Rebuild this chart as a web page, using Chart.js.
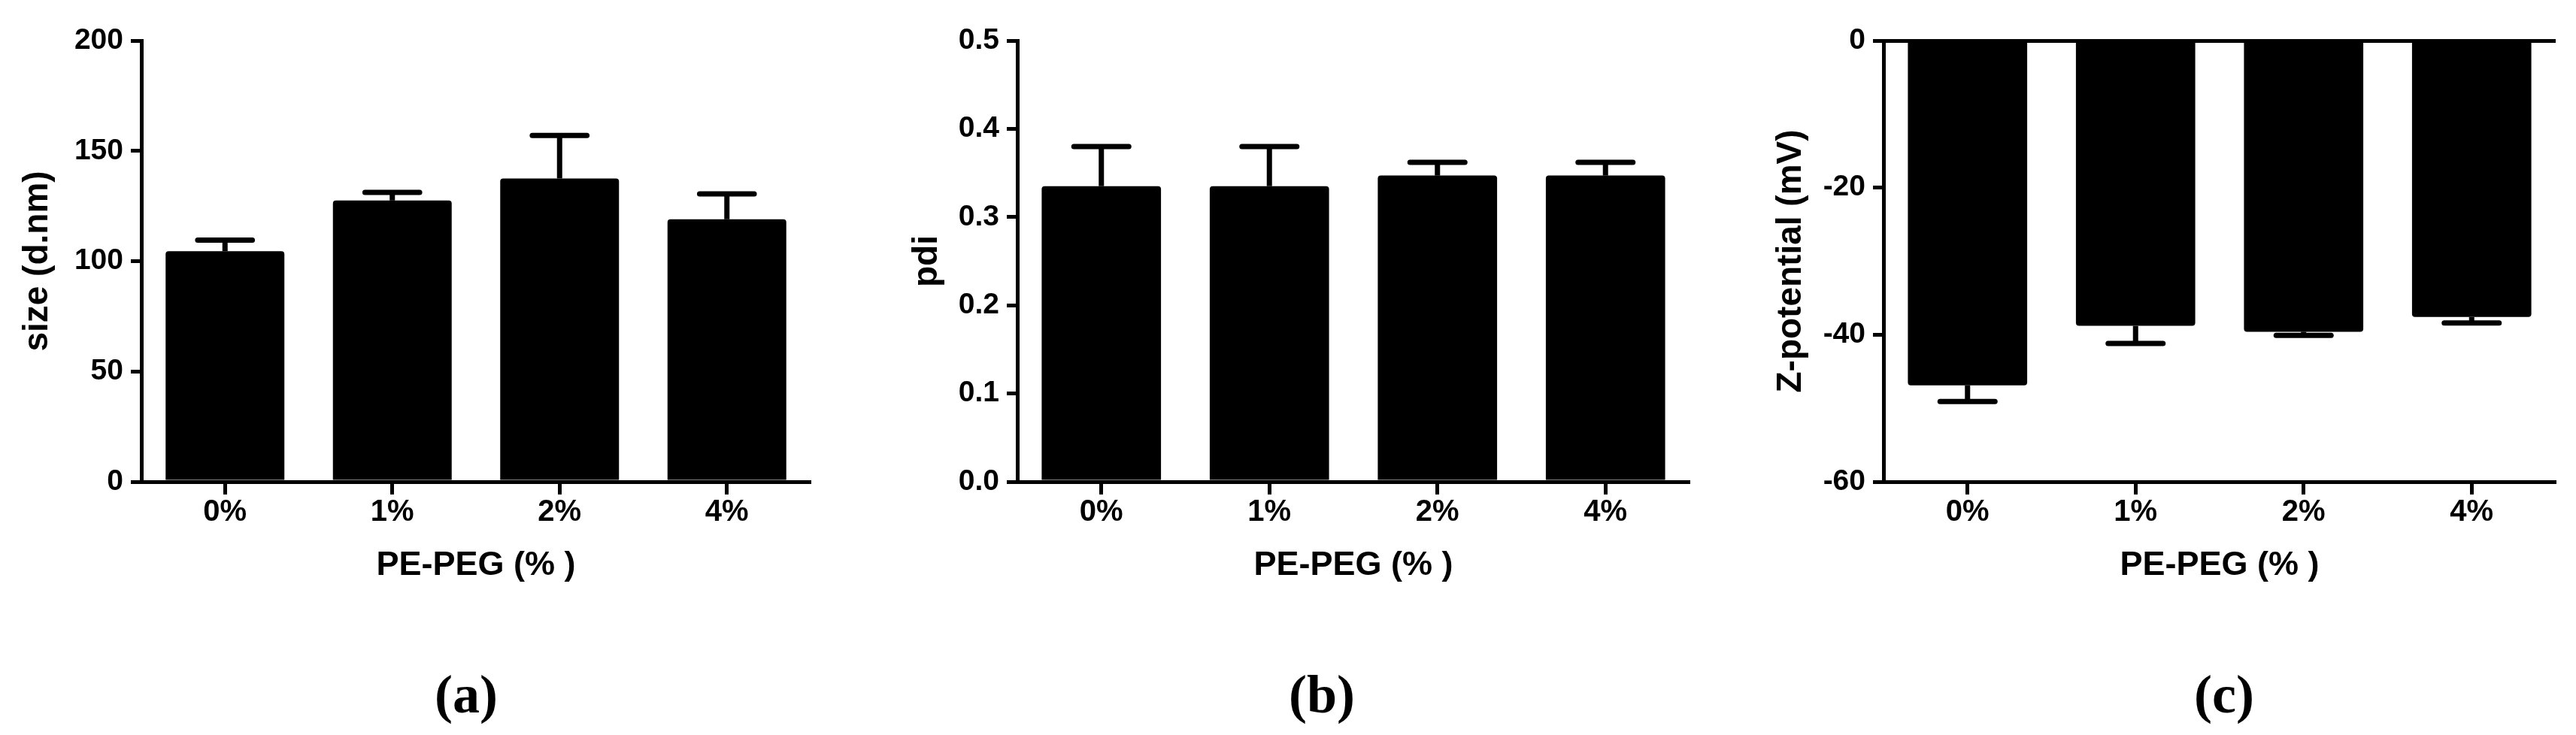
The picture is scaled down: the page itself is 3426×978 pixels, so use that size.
<!DOCTYPE html>
<html>
<head>
<meta charset="utf-8">
<script src="https://cdn.jsdelivr.net/npm/chart.js@4.4.1/dist/chart.umd.min.js"></script>
<style>
  html, body { margin: 0; padding: 0; background: #fff; }
  body { width: 3426px; height: 978px; position: relative; overflow: hidden; }
  .panel { position: absolute; top: 0; height: 800px; }
  .tag {
    position: absolute; top: 884px; width: 200px; margin-left: -100px;
    text-align: center; font-family: "Liberation Serif", serif; font-weight: bold;
    font-size: 72px; line-height: 80px; color: #000;
  }
</style>
</head>
<body>
<div class="panel" style="left:0;width:1130px"><canvas id="sizeChart" width="1130" height="800"></canvas></div>
<div class="panel" style="left:1130px;width:1170px"><canvas id="pdiChart" width="1170" height="800"></canvas></div>
<div class="panel" style="left:2300px;width:1126px"><canvas id="zetaChart" width="1126" height="800"></canvas></div>
<div class="tag" style="left:620px">(a)</div>
<div class="tag" style="left:1758px">(b)</div>
<div class="tag" style="left:2958px">(c)</div>
<script>
(function () {
  const categories = ["0%", "1%", "2%", "4%"];

  const sizeValues = [104.5, 127.5, 137.5, 119];
  const sizeErrors = [5, 3.7, 19.5, 11.5];

  const pdiValues = [0.335, 0.335, 0.347, 0.347];
  const pdiErrors = [0.045, 0.045, 0.015, 0.015];

  const zetaValues = [-46.9, -38.8, -39.6, -37.6];
  const zetaErrors = [2.2, 2.4, 0.5, 0.8];

  const FONT = "'Liberation Sans', Arial, sans-serif";

  // error bars drawn outward from the bar end (SD style, one sided)
  const errorBars = {
    id: "errorBars",
    afterDatasetsDraw(chart) {
      const ctx = chart.ctx;
      const yScale = chart.scales.y;
      chart.data.datasets.forEach((ds, di) => {
        const meta = chart.getDatasetMeta(di);
        meta.data.forEach((bar, i) => {
          const v = ds.data[i];
          const e = ds.errors[i];
          const yEnd = yScale.getPixelForValue(v < 0 ? v - e : v + e);
          const half = bar.width * 0.23;
          ctx.save();
          ctx.strokeStyle = "#000";
          ctx.lineWidth = 7;
          ctx.beginPath();
          ctx.moveTo(bar.x, bar.y);
          ctx.lineTo(bar.x, yEnd);
          ctx.stroke();
          ctx.lineCap = "round";
          ctx.beginPath();
          ctx.moveTo(bar.x - half, yEnd);
          ctx.lineTo(bar.x + half, yEnd);
          ctx.stroke();
          ctx.restore();
        });
      });
    },
  };

  function makeChart(id, cfg) {
    const canvas = document.getElementById(id);
    if (!canvas) return;
    new Chart(canvas, {
      type: "bar",
      data: {
        labels: categories,
        datasets: [
          {
            data: cfg.values,
            errors: cfg.errors,
            backgroundColor: "#000",
            borderWidth: 0,
            borderRadius: 4,
            barPercentage: 0.71,
            categoryPercentage: 1,
          },
        ],
      },
      options: {
        responsive: false,
        devicePixelRatio: 1,
        animation: false,
        layout: { padding: { left: 0, top: 54, right: cfg.padRight, bottom: 0 } },
        plugins: { legend: { display: false }, tooltip: { enabled: false } },
        scales: {
          x: {
            offset: true,
            grid: {
              offset: false,
              drawOnChartArea: false,
              tickLength: 17,
              tickWidth: 5,
              tickColor: "#000",
            },
            border: { color: "#000", width: 5 },
            ticks: {
              color: "#000",
              padding: 0,
              font: { family: FONT, size: 40, weight: "bold" },
            },
            title: {
              display: true,
              text: "PE-PEG (% )",
              color: "#000",
              padding: { top: 0, bottom: 20 },
              font: { family: FONT, size: 45, weight: "bold" },
            },
            afterFit(scale) {
              scale.height = 159;
            },
          },
          y: {
            min: cfg.min,
            max: cfg.max,
            grid: {
              drawOnChartArea: cfg.zeroLine,
              color: (c) => (cfg.zeroLine && c.tick && c.tick.value === 0 ? "#000" : "rgba(0,0,0,0)"),
              lineWidth: 5,
              tickLength: 14,
              tickWidth: 5,
              tickColor: "#000",
            },
            border: { color: "#000", width: 5 },
            ticks: {
              stepSize: cfg.step,
              color: "#000",
              padding: 10,
              font: { family: FONT, size: 39, weight: "bold" },
              callback: cfg.format,
            },
            title: {
              display: true,
              text: cfg.yTitle,
              color: "#000",
              padding: { top: cfg.titlePad, bottom: 0 },
              font: { family: FONT, size: 46, weight: "bold" },
            },
            afterFit(scale) {
              scale.width = cfg.axisWidth;
            },
          },
        },
      },
      plugins: [errorBars],
    });
  }

  makeChart("sizeChart", {
    values: sizeValues,
    errors: sizeErrors,
    min: 0,
    max: 200,
    step: 50,
    yTitle: "size (d.nm)",
    axisWidth: 188,
    titlePad: 23,
    padRight: 52,
    zeroLine: false,
    format: (v) => String(v),
  });

  makeChart("pdiChart", {
    values: pdiValues,
    errors: pdiErrors,
    min: 0,
    max: 0.5,
    step: 0.1,
    yTitle: "pdi",
    axisWidth: 223,
    titlePad: 76,
    padRight: 53,
    zeroLine: false,
    format: (v) => Number(v).toFixed(1),
  });

  makeChart("zetaChart", {
    values: zetaValues,
    errors: zetaErrors,
    min: -60,
    max: 0,
    step: 20,
    yTitle: "Z-potential (mV)",
    axisWidth: 205,
    titlePad: 55,
    padRight: 27,
    zeroLine: true,
    format: (v) => String(v),
  });
})();
</script>
</body>
</html>
